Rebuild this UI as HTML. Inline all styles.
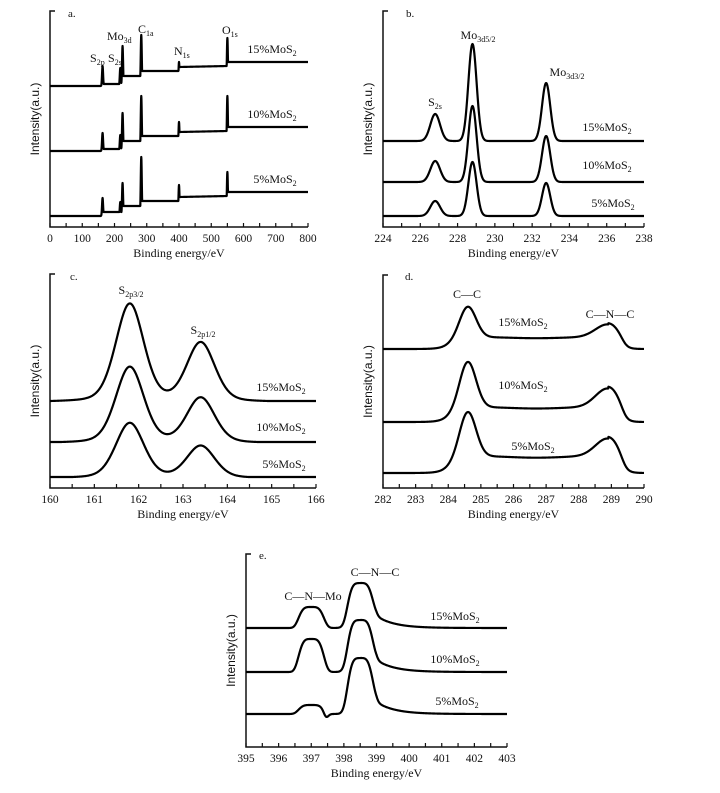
<!DOCTYPE html>
<html><head><meta charset="utf-8">
<style>
html,body{margin:0;padding:0;background:#fff;}
svg{display:block;font-family:"Liberation Serif",serif;}
</style></head>
<body>
<svg id="fig" width="720" height="793" viewBox="0 0 720 793" xmlns="http://www.w3.org/2000/svg">
<rect width="720" height="793" fill="#fff"/>
<g id="ann" font-size="12" fill="#111">
  <text x="68" y="17" font-size="11">a.</text>
  <text x="406" y="17" font-size="11">b.</text>
  <text x="70" y="280" font-size="11">c.</text>
  <text x="405" y="280" font-size="11">d.</text>
  <text x="259" y="559" font-size="11">e.</text>
  <text x="90" y="62">S<tspan font-size="8" dy="3">2p</tspan></text>
  <text x="108" y="62">S<tspan font-size="8" dy="3">2s</tspan></text>
  <text x="107" y="40">Mo<tspan font-size="8" dy="3">3d</tspan></text>
  <text x="138" y="33">C<tspan font-size="8" dy="3">1a</tspan></text>
  <text x="174" y="55">N<tspan font-size="8" dy="3">1s</tspan></text>
  <text x="222" y="34">O<tspan font-size="8" dy="3">1s</tspan></text>
  <text x="272" y="53" text-anchor="middle">15%MoS<tspan font-size="8" dy="3">2</tspan></text>
  <text x="272" y="118" text-anchor="middle">10%MoS<tspan font-size="8" dy="3">2</tspan></text>
  <text x="275" y="183" text-anchor="middle">5%MoS<tspan font-size="8" dy="3">2</tspan></text>
  <text x="435" y="106" text-anchor="middle">S<tspan font-size="8" dy="3">2s</tspan></text>
  <text x="478" y="39" text-anchor="middle">Mo<tspan font-size="8" dy="3">3d5/2</tspan></text>
  <text x="567" y="76" text-anchor="middle">Mo<tspan font-size="8" dy="3">3d3/2</tspan></text>
  <text x="607" y="131" text-anchor="middle">15%MoS<tspan font-size="8" dy="3">2</tspan></text>
  <text x="607" y="169" text-anchor="middle">10%MoS<tspan font-size="8" dy="3">2</tspan></text>
  <text x="613" y="207" text-anchor="middle">5%MoS<tspan font-size="8" dy="3">2</tspan></text>
  <text x="131" y="294" text-anchor="middle">S<tspan font-size="8" dy="3">2p3/2</tspan></text>
  <text x="203" y="334" text-anchor="middle">S<tspan font-size="8" dy="3">2p1/2</tspan></text>
  <text x="281" y="391" text-anchor="middle">15%MoS<tspan font-size="8" dy="3">2</tspan></text>
  <text x="281" y="431" text-anchor="middle">10%MoS<tspan font-size="8" dy="3">2</tspan></text>
  <text x="284" y="468" text-anchor="middle">5%MoS<tspan font-size="8" dy="3">2</tspan></text>
  <text x="467" y="298" text-anchor="middle">C—C</text>
  <text x="610" y="318" text-anchor="middle">C—N—C</text>
  <text x="523" y="326" text-anchor="middle">15%MoS<tspan font-size="8" dy="3">2</tspan></text>
  <text x="523" y="389" text-anchor="middle">10%MoS<tspan font-size="8" dy="3">2</tspan></text>
  <text x="533" y="450" text-anchor="middle">5%MoS<tspan font-size="8" dy="3">2</tspan></text>
  <text x="313" y="600" text-anchor="middle">C—N—Mo</text>
  <text x="375" y="576" text-anchor="middle">C—N—C</text>
  <text x="455" y="620" text-anchor="middle">15%MoS<tspan font-size="8" dy="3">2</tspan></text>
  <text x="455" y="663" text-anchor="middle">10%MoS<tspan font-size="8" dy="3">2</tspan></text>
  <text x="457" y="705" text-anchor="middle">5%MoS<tspan font-size="8" dy="3">2</tspan></text>
</g>
</svg>
<script>
// ---- Panel a: survey ----
const aPeakPos = [163, 218, 225, 283, 400, 550];
const aPeak15 = [20, 18, 40, 51, 24, 48];
const aPeak10 = [18, 16, 38, 55, 29, 55];
const aPeak5 = [18, 14, 33, 59, 31, 44];
const aStepPos = [164, 224, 284, 401, 551];
const aStep15 = [2, 10, 15, 19, 24];
const aStep10 = [2, 10, 15, 19, 24];
const aStep5 = [4, 10, 15, 19, 24];
const aTicks = [0, 100, 200, 300, 400, 500, 600, 700, 800];
// ---- Panel b: Mo 3d ----
const bPeakPos = [226.8, 228.8, 232.75];
const bPeakSigma = [0.26, 0.22, 0.22];
const bPeak15 = [27, 97, 58];
const bPeak10 = [21, 76, 46];
const bPeak5 = [15, 54, 33];
const bTicks = [224, 226, 228, 230, 232, 234, 236, 238];
// ---- Panel c: S 2p ----
const cPeakPos = [161.8, 163.4];
const cPeak15 = [98, 59];
const cPeak10 = [76, 45];
const cPeak5 = [55, 32];
const cTicks = [160, 161, 162, 163, 164, 165, 166];
// ---- Panel d: C 1s ----
const dPeakPos = [284.6, 288.9];
const dCC = [31, 46, 45];
const dPlateau = [12, 15, 17];
const dCNC = [13, 19, 18];
const dTicks = [282, 283, 284, 285, 286, 287, 288, 289, 290];
// ---- Panel e: N 1s ----
const ePeakPos = [397.0, 398.5];
const eNMo = [21, 33, 9];
const eCNC = [33, 40, 44];
const eTail = [12, 12, 12];
const eDip = [0, 0, -5];
const eTicks = [395, 396, 397, 398, 399, 400, 401, 402, 403];

const NS = 'http://www.w3.org/2000/svg';
const svg = document.getElementById('fig');
function mk(tag, attrs, parent){ const e=document.createElementNS(NS,tag); for(const k in attrs) e.setAttribute(k,attrs[k]); (parent||svg).appendChild(e); return e; }

function axes(P, ticks, minorStep, id){
  const g = mk('g', {});
  
  
  const sx = v => P.x0 + (v - P.xmin) / (P.xmax - P.xmin) * (P.x1 - P.x0);
  mk('path', {d:`M${P.x0+5},${P.yTop} H${P.x0} V${P.yAxis} H${P.x1}`, fill:'none', stroke:'#111', 'stroke-width':1.5}, g);
  for (let v = P.xmin; v <= P.xmax + 1e-9; v += minorStep) {
    const x = sx(v);
    mk('line', {x1:x, x2:x, y1:P.yAxis, y2:P.yAxis-4, stroke:'#111', 'stroke-width':1.2}, g);
  }
  ticks.forEach(v => {
    const t = mk('text', {x:sx(v), y:P.yAxis+15, 'text-anchor':'middle', 'font-size':11.5, fill:'#111'}, g);
    
    
    t.textContent = v;
  });
  const xt = mk('text', {x:(P.x0+P.x1)/2, y:P.yAxis+30, 'text-anchor':'middle', 'font-size':12, fill:'#111'}, g);
  
  
  xt.textContent = 'Binding energy/eV';
  const cy = (P.yTop + P.yAxis) / 2;
  const yt = mk('text', {x:P.x0-11, y:cy, transform:`rotate(-90 ${P.x0-11} ${cy})`, 'text-anchor':'middle', 'font-size':12, fill:'#111', 'font-family':'"Liberation Sans",sans-serif'}, g);
  
  
  yt.textContent = 'Intensity(a.u.)';
  return sx;
}
function curve(sx, base, fn, xmin, xmax, step, name){
  let d = '';
  for (let v = xmin; v <= xmax + 1e-9; v += step) {
    const y = base - fn(v);
    d += (d ? 'L' : 'M') + sx(v).toFixed(2) + ',' + y.toFixed(2);
  }
  const p = mk('path', {d, fill:'none', stroke:'#000', 'stroke-width':2.2, 'stroke-linejoin':'round'});
  
  
}
const gauss = (x,c,s) => Math.exp(-0.5*((x-c)/s)**2);
const sig = z => 1/(1+Math.exp(-z));

// Panel a
const PA = {x0:50, x1:308, yTop:11, yAxis:227, xmin:0, xmax:800};
const sxa = axes(PA, aTicks, 50, 'panel-a');
[[aPeak15, aStep15, 86, 'a-15'], [aPeak10, aStep10, 151, 'a-10'], [aPeak5, aStep5, 216, 'a-5']].forEach(([pk, st, base, nm]) => {
  const f = x => {
    let bg = 0;
    aStepPos.forEach((p,i) => { if (x >= p) bg = st[i]; });
    if (x > 401 && x < 551) bg += (x-401)/150*1;
    let v = bg;
    aPeakPos.forEach((c,i) => { v = Math.max(v, pk[i]*gauss(x,c,1.6)); });
    return v;
  };
  curve(sxa, base, f, 0, 800, 0.5, 'series-' + nm);
});

// Panel b
const PB = {x0:383, x1:644, yTop:11, yAxis:227, xmin:224, xmax:238};
const sxb = axes(PB, bTicks, 1, 'panel-b');
[[bPeak15, 141, 'b-15'], [bPeak10, 182, 'b-10'], [bPeak5, 216, 'b-5']].forEach(([pk, base, nm]) => {
  const f = x => bPeakPos.reduce((s,c,i) => s + pk[i]*gauss(x,c,bPeakSigma[i]), 0);
  curve(sxb, base, f, 224, 238, 0.02, 'series-' + nm);
});

// Panel c
const PC = {x0:50, x1:316, yTop:274, yAxis:488, xmin:160, xmax:166};
const sxc = axes(PC, cTicks, 0.5, 'panel-c');
const pv = (x,c) => { const w=0.75, s=w/2.355, g=w/2; return 0.75*gauss(x,c,s) + 0.25/(1+((x-c)/g)**2); };
[[cPeak15, 401, 'c-15'], [cPeak10, 442, 'c-10'], [cPeak5, 477, 'c-5']].forEach(([pk, base, nm]) => {
  const f = x => cPeakPos.reduce((s,c,i) => s + pk[i]*pv(x,c), 0) - 1.2;
  curve(sxc, base, x => Math.max(0, f(x)), 160, 166, 0.01, 'series-' + nm);
});

// Panel d
const PD = {x0:383, x1:644, yTop:275, yAxis:488, xmin:282, xmax:290};
const sxd = axes(PD, dTicks, 0.5, 'panel-d');
[[0, 349, 'd-15'], [1, 422, 'd-10'], [2, 473, 'd-5']].forEach(([k, base, nm]) => {
  const f = x => dCC[k]*gauss(x,dPeakPos[0],0.25)
    + dPlateau[k]*sig((x-284.1)/0.18)*sig((289.3-x)/0.12)*(1-0.1*gauss(x,286.7,0.8))
    + dCNC[k]*gauss(x,dPeakPos[1],0.38)*(x>dPeakPos[1]?sig((289.4-x)/0.08)*1.1:1);
  curve(sxd, base, f, 282, 290, 0.01, 'series-' + nm);
});

// Panel e
const PE = {x0:246, x1:507, yTop:554, yAxis:747, xmin:395, xmax:403};
const sxe = axes(PE, eTicks, 0.5, 'panel-e');
[[0, 628, 'e-15'], [1, 672, 'e-10'], [2, 714, 'e-5']].forEach(([k, base, nm]) => {
  const f = x => eNMo[k]*Math.exp(-(((x-ePeakPos[0])/0.42)**4))
    + eCNC[k]*Math.exp(-(((x-ePeakPos[1])/0.42)**4))
    + eTail[k]*sig((x-398.1)/0.07)*(x<399?1:Math.exp(-(x-399)/0.55))
    + eDip[k]*gauss(x,397.45,0.07);
  curve(sxe, base, f, 395, 403, 0.01, 'series-' + nm);
});
</script>
</body></html>
